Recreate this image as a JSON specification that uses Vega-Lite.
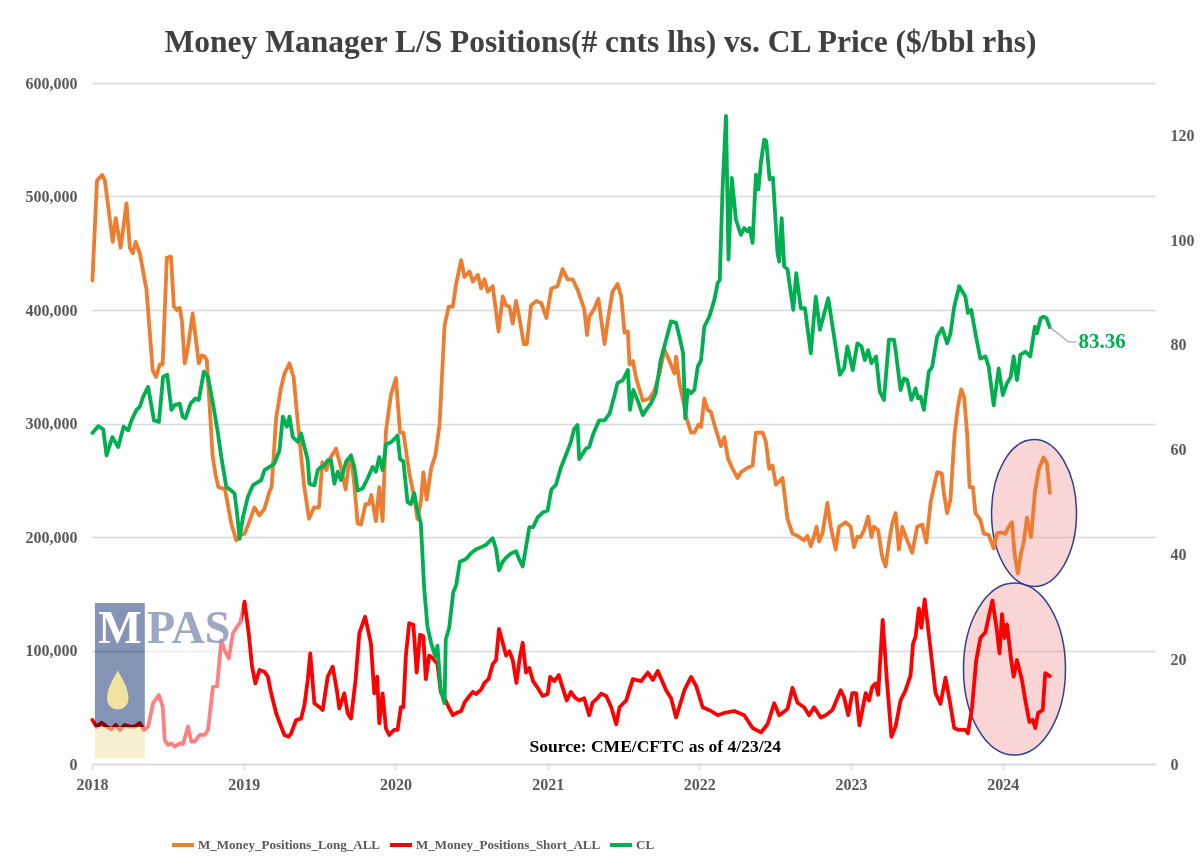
{
  "$schema": "https://vega.github.io/schema/vega-lite/v6.json",
  "width": 1063,
  "height": 681,
  "autosize": {"type": "none"},
  "padding": {"left": 92, "top": 83, "right": 45, "bottom": 104},
  "background": "white",
  "title": {"text": "Money Manager L/S Positions(# cnts lhs) vs. CL Price ($/bbl rhs)", "font": "Liberation Serif", "fontSize": 31.5, "fontWeight": "bold", "color": "#404040", "anchor": "middle", "frame": "group", "offset": 17, "dx": -23},
  "datasets": {
    "long": [
      {"d":"2018-01-02","v":426000},{"d":"2018-01-13","v":514000},{"d":"2018-01-26","v":519000},{"d":"2018-02-01","v":514000},{"d":"2018-02-20","v":460000},{"d":"2018-02-27","v":481000},{"d":"2018-03-11","v":455000},{"d":"2018-03-25","v":494000},{"d":"2018-04-02","v":455000},{"d":"2018-04-09","v":450000},{"d":"2018-04-16","v":460000},{"d":"2018-04-26","v":450000},{"d":"2018-05-12","v":418000},{"d":"2018-05-27","v":347000},{"d":"2018-06-04","v":341000},{"d":"2018-06-13","v":352000},{"d":"2018-06-20","v":352000},{"d":"2018-06-30","v":446000},{"d":"2018-07-10","v":447000},{"d":"2018-07-17","v":403000},{"d":"2018-07-24","v":400000},{"d":"2018-07-31","v":402000},{"d":"2018-08-05","v":391000},{"d":"2018-08-12","v":353000},{"d":"2018-08-19","v":365000},{"d":"2018-08-31","v":397000},{"d":"2018-09-15","v":353000},{"d":"2018-09-22","v":360000},{"d":"2018-09-29","v":359000},{"d":"2018-10-04","v":356000},{"d":"2018-10-11","v":315000},{"d":"2018-10-18","v":272000},{"d":"2018-10-25","v":255000},{"d":"2018-11-01","v":244000},{"d":"2018-11-17","v":242000},{"d":"2018-12-02","v":212000},{"d":"2018-12-14","v":197000},{"d":"2018-12-26","v":202000},
      {"d":"2019-01-03","v":203000},{"d":"2019-01-15","v":214000},{"d":"2019-01-27","v":226000},{"d":"2019-02-08","v":219000},{"d":"2019-02-20","v":225000},{"d":"2019-03-04","v":240000},{"d":"2019-03-09","v":244000},{"d":"2019-03-20","v":305000},{"d":"2019-04-01","v":332000},{"d":"2019-04-09","v":344000},{"d":"2019-04-21","v":353000},{"d":"2019-05-01","v":341000},{"d":"2019-05-10","v":305000},{"d":"2019-05-26","v":246000},{"d":"2019-06-07","v":216000},{"d":"2019-06-19","v":226000},{"d":"2019-07-01","v":226000},{"d":"2019-07-09","v":266000},{"d":"2019-07-19","v":259000},{"d":"2019-07-26","v":268000},{"d":"2019-08-11","v":278000},{"d":"2019-08-23","v":261000},{"d":"2019-09-03","v":242000},{"d":"2019-09-11","v":265000},{"d":"2019-09-16","v":272000},{"d":"2019-09-24","v":246000},{"d":"2019-10-02","v":212000},{"d":"2019-10-10","v":211000},{"d":"2019-10-21","v":229000},{"d":"2019-10-29","v":229000},{"d":"2019-11-04","v":237000},{"d":"2019-11-15","v":214000},{"d":"2019-11-23","v":244000},{"d":"2019-12-01","v":214000},{"d":"2019-12-09","v":293000},{"d":"2019-12-21","v":325000},
      {"d":"2020-01-02","v":340000},{"d":"2020-01-12","v":292000},{"d":"2020-01-20","v":292000},{"d":"2020-02-03","v":257000},{"d":"2020-02-15","v":235000},{"d":"2020-02-23","v":216000},{"d":"2020-03-02","v":231000},{"d":"2020-03-08","v":257000},{"d":"2020-03-16","v":233000},{"d":"2020-03-27","v":261000},{"d":"2020-04-06","v":272000},{"d":"2020-04-16","v":299000},{"d":"2020-04-28","v":386000},{"d":"2020-05-08","v":403000},{"d":"2020-05-18","v":403000},{"d":"2020-05-26","v":423000},{"d":"2020-06-07","v":444000},{"d":"2020-06-15","v":429000},{"d":"2020-06-27","v":434000},{"d":"2020-07-05","v":425000},{"d":"2020-07-17","v":431000},{"d":"2020-07-25","v":419000},{"d":"2020-08-02","v":427000},{"d":"2020-08-10","v":416000},{"d":"2020-08-22","v":421000},{"d":"2020-09-05","v":381000},{"d":"2020-09-15","v":412000},{"d":"2020-09-23","v":404000},{"d":"2020-10-01","v":403000},{"d":"2020-10-09","v":388000},{"d":"2020-10-17","v":408000},{"d":"2020-10-25","v":393000},{"d":"2020-11-05","v":370000},{"d":"2020-11-12","v":370000},{"d":"2020-11-22","v":404000},{"d":"2020-12-05","v":408000},{"d":"2020-12-17","v":406000},{"d":"2020-12-29","v":393000},
      {"d":"2021-01-10","v":419000},{"d":"2021-01-25","v":421000},{"d":"2021-02-06","v":436000},{"d":"2021-02-18","v":427000},{"d":"2021-03-02","v":427000},{"d":"2021-03-14","v":418000},{"d":"2021-03-30","v":401000},{"d":"2021-04-06","v":378000},{"d":"2021-04-11","v":394000},{"d":"2021-04-23","v":401000},{"d":"2021-05-03","v":410000},{"d":"2021-05-18","v":370000},{"d":"2021-05-25","v":389000},{"d":"2021-06-06","v":416000},{"d":"2021-06-18","v":423000},{"d":"2021-06-27","v":412000},{"d":"2021-07-05","v":380000},{"d":"2021-07-13","v":381000},{"d":"2021-07-17","v":352000},{"d":"2021-07-25","v":355000},{"d":"2021-08-02","v":340000},{"d":"2021-08-18","v":320000},{"d":"2021-09-03","v":322000},{"d":"2021-09-15","v":329000},{"d":"2021-09-27","v":344000},{"d":"2021-10-09","v":365000},{"d":"2021-10-21","v":355000},{"d":"2021-11-02","v":344000},{"d":"2021-11-06","v":359000},{"d":"2021-11-14","v":336000},{"d":"2021-11-22","v":322000},{"d":"2021-11-30","v":306000},{"d":"2021-12-12","v":292000},{"d":"2021-12-20","v":292000},{"d":"2021-12-30","v":299000},
      {"d":"2022-01-05","v":297000},{"d":"2022-01-13","v":322000},{"d":"2022-01-21","v":312000},{"d":"2022-01-29","v":310000},{"d":"2022-02-06","v":299000},{"d":"2022-02-22","v":280000},{"d":"2022-03-02","v":288000},{"d":"2022-03-11","v":269000},{"d":"2022-03-22","v":260000},{"d":"2022-04-03","v":252000},{"d":"2022-04-11","v":257000},{"d":"2022-04-27","v":261000},{"d":"2022-05-09","v":263000},{"d":"2022-05-17","v":292000},{"d":"2022-06-02","v":292000},{"d":"2022-06-10","v":284000},{"d":"2022-06-18","v":260000},{"d":"2022-06-26","v":263000},{"d":"2022-07-04","v":246000},{"d":"2022-07-20","v":252000},{"d":"2022-08-01","v":216000},{"d":"2022-08-13","v":203000},{"d":"2022-08-25","v":201000},{"d":"2022-09-10","v":197000},{"d":"2022-09-18","v":201000},{"d":"2022-09-26","v":192000},{"d":"2022-10-04","v":201000},{"d":"2022-10-10","v":209000},{"d":"2022-10-16","v":196000},{"d":"2022-10-24","v":203000},{"d":"2022-11-05","v":230000},{"d":"2022-11-13","v":209000},{"d":"2022-11-25","v":189000},{"d":"2022-12-03","v":209000},{"d":"2022-12-19","v":213000},{"d":"2022-12-31","v":209000},
      {"d":"2023-01-08","v":191000},{"d":"2023-01-16","v":200000},{"d":"2023-01-24","v":200000},{"d":"2023-02-01","v":206000},{"d":"2023-02-11","v":218000},{"d":"2023-02-19","v":200000},{"d":"2023-02-25","v":209000},{"d":"2023-03-07","v":206000},{"d":"2023-03-17","v":182000},{"d":"2023-03-25","v":174000},{"d":"2023-04-02","v":195000},{"d":"2023-04-10","v":212000},{"d":"2023-04-18","v":221000},{"d":"2023-04-26","v":189000},{"d":"2023-05-04","v":209000},{"d":"2023-05-16","v":197000},{"d":"2023-05-28","v":186000},{"d":"2023-06-09","v":209000},{"d":"2023-06-21","v":211000},{"d":"2023-07-01","v":195000},{"d":"2023-07-11","v":230000},{"d":"2023-07-19","v":244000},{"d":"2023-07-27","v":257000},{"d":"2023-08-07","v":256000},{"d":"2023-08-12","v":239000},{"d":"2023-08-20","v":221000},{"d":"2023-08-28","v":233000},{"d":"2023-09-07","v":291000},{"d":"2023-09-15","v":315000},{"d":"2023-09-23","v":330000},{"d":"2023-09-30","v":323000},{"d":"2023-10-07","v":291000},{"d":"2023-10-13","v":244000},{"d":"2023-10-21","v":244000},{"d":"2023-10-27","v":221000},{"d":"2023-11-08","v":215000},{"d":"2023-11-16","v":203000},{"d":"2023-11-28","v":202000},{"d":"2023-12-10","v":190000},{"d":"2023-12-18","v":203000},{"d":"2023-12-26","v":204000},
      {"d":"2024-01-07","v":203000},{"d":"2024-01-15","v":209000},{"d":"2024-01-23","v":213000},{"d":"2024-01-29","v":186000},{"d":"2024-02-06","v":168000},{"d":"2024-02-14","v":186000},{"d":"2024-02-20","v":195000},{"d":"2024-02-28","v":217000},{"d":"2024-03-09","v":200000},{"d":"2024-03-18","v":239000},{"d":"2024-03-27","v":259000},{"d":"2024-04-08","v":270000},{"d":"2024-04-16","v":265000},{"d":"2024-04-23","v":239000}
    ],
    "short": [
      {"d":"2018-01-02","v":38800},{"d":"2018-01-12","v":32900},{"d":"2018-01-24","v":36400},{"d":"2018-02-05","v":33000},{"d":"2018-02-17","v":30600},{"d":"2018-02-27","v":34400},{"d":"2018-03-09","v":30000},{"d":"2018-03-21","v":34400},{"d":"2018-04-02","v":32900},{"d":"2018-04-14","v":32900},{"d":"2018-04-26","v":36000},{"d":"2018-05-06","v":30000},{"d":"2018-05-16","v":33000},{"d":"2018-05-28","v":53500},{"d":"2018-06-11","v":60800},{"d":"2018-06-20","v":50500},{"d":"2018-06-25","v":21000},{"d":"2018-07-03","v":16700},{"d":"2018-07-11","v":18200},{"d":"2018-07-19","v":15300},{"d":"2018-07-31","v":18200},{"d":"2018-08-08","v":17600},{"d":"2018-08-20","v":33000},{"d":"2018-08-28","v":19700},{"d":"2018-09-05","v":19700},{"d":"2018-09-17","v":25600},{"d":"2018-09-29","v":25600},{"d":"2018-10-07","v":30000},{"d":"2018-10-19","v":68000},{"d":"2018-10-29","v":68700},{"d":"2018-11-08","v":109000},{"d":"2018-11-16","v":100000},{"d":"2018-11-26","v":93000},{"d":"2018-12-06","v":115000},{"d":"2018-12-16","v":121000},{"d":"2018-12-24","v":125000},
      {"d":"2019-01-03","v":143000},{"d":"2019-01-13","v":115000},{"d":"2019-01-21","v":85700},{"d":"2019-01-29","v":71000},{"d":"2019-02-08","v":82800},{"d":"2019-02-20","v":81300},{"d":"2019-02-28","v":77000},{"d":"2019-03-08","v":62300},{"d":"2019-03-20","v":44700},{"d":"2019-04-01","v":33000},{"d":"2019-04-09","v":25600},{"d":"2019-04-19","v":24000},{"d":"2019-04-25","v":27000},{"d":"2019-05-07","v":38800},{"d":"2019-05-19","v":40000},{"d":"2019-05-27","v":52000},{"d":"2019-06-04","v":74000},{"d":"2019-06-10","v":97500},{"d":"2019-06-20","v":53400},{"d":"2019-07-01","v":50500},{"d":"2019-07-10","v":47600},{"d":"2019-07-22","v":77000},{"d":"2019-08-03","v":85700},{"d":"2019-08-13","v":65000},{"d":"2019-08-19","v":49000},{"d":"2019-08-31","v":62300},{"d":"2019-09-08","v":44700},{"d":"2019-09-16","v":40000},{"d":"2019-09-27","v":74000},{"d":"2019-10-06","v":115000},{"d":"2019-10-20","v":129800},{"d":"2019-11-03","v":106000},{"d":"2019-11-11","v":62300},{"d":"2019-11-18","v":77000},{"d":"2019-11-23","v":35900},{"d":"2019-12-01","v":62300},{"d":"2019-12-09","v":31400},{"d":"2019-12-17","v":25600},{"d":"2019-12-29","v":30000},
      {"d":"2020-01-06","v":30000},{"d":"2020-01-14","v":50000},{"d":"2020-01-20","v":50000},{"d":"2020-01-26","v":95500},{"d":"2020-02-03","v":124000},{"d":"2020-02-13","v":122700},{"d":"2020-02-21","v":80500},{"d":"2020-02-29","v":114000},{"d":"2020-03-08","v":112600},{"d":"2020-03-14","v":74700},{"d":"2020-03-22","v":95500},{"d":"2020-03-30","v":93500},{"d":"2020-04-11","v":88000},{"d":"2020-04-19","v":63500},{"d":"2020-04-28","v":58000},{"d":"2020-05-08","v":50000},{"d":"2020-05-18","v":43000},{"d":"2020-05-27","v":45000},{"d":"2020-06-07","v":46700},{"d":"2020-06-15","v":54000},{"d":"2020-06-27","v":60000},{"d":"2020-07-05","v":63500},{"d":"2020-07-13","v":61700},{"d":"2020-07-25","v":65500},{"d":"2020-08-02","v":71500},{"d":"2020-08-12","v":74800},{"d":"2020-08-22","v":88000},{"d":"2020-08-30","v":91600},{"d":"2020-09-06","v":119000},{"d":"2020-09-15","v":106800},{"d":"2020-09-23","v":95500},{"d":"2020-10-01","v":99300},{"d":"2020-10-09","v":91600},{"d":"2020-10-18","v":71500},{"d":"2020-10-26","v":93600},{"d":"2020-11-02","v":106800},{"d":"2020-11-10","v":80500},{"d":"2020-11-18","v":84600},{"d":"2020-11-27","v":73000},{"d":"2020-12-08","v":67300},{"d":"2020-12-20","v":60000},
      {"d":"2021-01-01","v":61700},{"d":"2021-01-07","v":76700},{"d":"2021-01-17","v":73000},{"d":"2021-01-28","v":78400},{"d":"2021-02-06","v":67300},{"d":"2021-02-16","v":56000},{"d":"2021-02-26","v":63500},{"d":"2021-03-09","v":58000},{"d":"2021-03-18","v":56000},{"d":"2021-03-30","v":58000},{"d":"2021-04-11","v":43000},{"d":"2021-04-19","v":54000},{"d":"2021-05-01","v":58000},{"d":"2021-05-10","v":62000},{"d":"2021-05-22","v":60000},{"d":"2021-06-03","v":50000},{"d":"2021-06-15","v":35000},{"d":"2021-06-23","v":50000},{"d":"2021-07-09","v":56000},{"d":"2021-07-25","v":74800},{"d":"2021-08-14","v":73000},{"d":"2021-08-30","v":80500},{"d":"2021-09-11","v":74000},{"d":"2021-09-23","v":82000},{"d":"2021-10-13","v":65000},{"d":"2021-10-25","v":58000},{"d":"2021-11-06","v":41000},{"d":"2021-11-26","v":65000},{"d":"2021-12-12","v":76700},{"d":"2021-12-24","v":69000},
      {"d":"2022-01-09","v":50000},{"d":"2022-01-29","v":46700},{"d":"2022-02-14","v":43000},{"d":"2022-03-02","v":45000},{"d":"2022-03-26","v":46700},{"d":"2022-04-19","v":43000},{"d":"2022-05-09","v":31700},{"d":"2022-05-29","v":27800},{"d":"2022-06-14","v":35000},{"d":"2022-06-30","v":53500},{"d":"2022-07-12","v":43000},{"d":"2022-08-01","v":48500},{"d":"2022-08-13","v":67000},{"d":"2022-08-25","v":54000},{"d":"2022-09-10","v":50000},{"d":"2022-09-22","v":43000},{"d":"2022-10-04","v":50000},{"d":"2022-10-20","v":41000},{"d":"2022-11-01","v":43000},{"d":"2022-11-17","v":47600},{"d":"2022-12-07","v":65000},{"d":"2022-12-15","v":59000},{"d":"2022-12-25","v":43000},
      {"d":"2023-01-04","v":62500},{"d":"2023-01-13","v":62500},{"d":"2023-01-21","v":34000},{"d":"2023-02-05","v":62500},{"d":"2023-02-13","v":56000},{"d":"2023-02-21","v":68000},{"d":"2023-03-01","v":71000},{"d":"2023-03-07","v":61000},{"d":"2023-03-18","v":127000},{"d":"2023-03-28","v":74000},{"d":"2023-04-08","v":24000},{"d":"2023-04-18","v":33000},{"d":"2023-04-30","v":56000},{"d":"2023-05-12","v":65000},{"d":"2023-05-24","v":78000},{"d":"2023-05-30","v":106000},{"d":"2023-06-05","v":112000},{"d":"2023-06-13","v":137000},{"d":"2023-06-19","v":120000},{"d":"2023-06-27","v":145000},{"d":"2023-07-07","v":114000},{"d":"2023-07-23","v":62500},{"d":"2023-08-04","v":53000},{"d":"2023-08-16","v":76000},{"d":"2023-08-26","v":56000},{"d":"2023-09-06","v":31700},{"d":"2023-09-17","v":30000},{"d":"2023-10-03","v":30000},{"d":"2023-10-09","v":27000},{"d":"2023-10-19","v":50000},{"d":"2023-10-29","v":91600},{"d":"2023-11-08","v":111000},{"d":"2023-11-20","v":116000},{"d":"2023-11-28","v":129500},{"d":"2023-12-07","v":144000},{"d":"2023-12-18","v":117000},{"d":"2023-12-24","v":97500},{"d":"2023-12-30","v":132000},
      {"d":"2024-01-05","v":111000},{"d":"2024-01-11","v":123000},{"d":"2024-01-21","v":91600},{"d":"2024-01-27","v":77000},{"d":"2024-02-04","v":91600},{"d":"2024-02-16","v":74000},{"d":"2024-02-24","v":56000},{"d":"2024-03-05","v":37000},{"d":"2024-03-13","v":38800},{"d":"2024-03-19","v":31700},{"d":"2024-03-26","v":45000},{"d":"2024-04-06","v":47600},{"d":"2024-04-12","v":80000},{"d":"2024-04-23","v":77500}
    ],
    "cl": [
      {"d":"2018-01-02","v":63.2},{"d":"2018-01-16","v":64.5},{"d":"2018-01-28","v":63.9},{"d":"2018-02-05","v":58.9},{"d":"2018-02-19","v":62.4},{"d":"2018-03-05","v":60.5},{"d":"2018-03-18","v":64.4},{"d":"2018-03-29","v":63.7},{"d":"2018-04-06","v":65.6},{"d":"2018-04-18","v":67.6},{"d":"2018-04-26","v":68.2},{"d":"2018-05-04","v":70.1},{"d":"2018-05-16","v":72.0},{"d":"2018-05-30","v":65.6},{"d":"2018-06-11","v":65.3},{"d":"2018-06-21","v":73.9},{"d":"2018-07-01","v":74.3},{"d":"2018-07-11","v":67.6},{"d":"2018-07-19","v":68.5},{"d":"2018-07-31","v":68.8},{"d":"2018-08-07","v":66.3},{"d":"2018-08-14","v":66.0},{"d":"2018-08-26","v":68.8},{"d":"2018-09-07","v":69.8},{"d":"2018-09-15","v":69.5},{"d":"2018-09-27","v":74.9},{"d":"2018-10-07","v":73.9},{"d":"2018-10-19","v":68.8},{"d":"2018-10-31","v":63.1},{"d":"2018-11-08","v":58.6},{"d":"2018-11-20","v":52.9},{"d":"2018-12-02","v":52.2},{"d":"2018-12-10","v":51.6},{"d":"2018-12-16","v":47.8},{"d":"2018-12-22","v":43.0},{"d":"2018-12-30","v":47.1},
      {"d":"2019-01-11","v":51.0},{"d":"2019-01-23","v":53.2},{"d":"2019-02-04","v":53.8},{"d":"2019-02-12","v":54.2},{"d":"2019-02-20","v":56.1},{"d":"2019-03-04","v":56.7},{"d":"2019-03-16","v":57.4},{"d":"2019-03-28","v":59.9},{"d":"2019-04-05","v":66.3},{"d":"2019-04-15","v":64.4},{"d":"2019-04-21","v":66.3},{"d":"2019-04-29","v":62.4},{"d":"2019-05-11","v":61.5},{"d":"2019-05-19","v":63.1},{"d":"2019-05-23","v":61.8},{"d":"2019-06-04","v":58.0},{"d":"2019-06-08","v":53.5},{"d":"2019-06-20","v":53.2},{"d":"2019-06-28","v":56.1},{"d":"2019-07-06","v":56.7},{"d":"2019-07-14","v":57.0},{"d":"2019-07-22","v":58.0},{"d":"2019-07-30","v":58.0},{"d":"2019-08-07","v":53.5},{"d":"2019-08-15","v":55.8},{"d":"2019-08-23","v":54.2},{"d":"2019-09-04","v":57.7},{"d":"2019-09-16","v":58.9},{"d":"2019-09-24","v":56.7},{"d":"2019-10-02","v":52.2},{"d":"2019-10-14","v":52.6},{"d":"2019-10-26","v":54.5},{"d":"2019-11-07","v":56.7},{"d":"2019-11-15","v":55.8},{"d":"2019-11-23","v":58.6},{"d":"2019-12-01","v":56.1},{"d":"2019-12-09","v":61.0},{"d":"2019-12-21","v":61.4},
      {"d":"2020-01-02","v":62.3},{"d":"2020-01-06","v":62.7},{"d":"2020-01-12","v":58.2},{"d":"2020-01-20","v":57.8},{"d":"2020-01-30","v":50.0},{"d":"2020-02-07","v":49.6},{"d":"2020-02-15","v":51.7},{"d":"2020-02-23","v":48.4},{"d":"2020-03-02","v":45.9},{"d":"2020-03-10","v":33.6},{"d":"2020-03-18","v":26.2},{"d":"2020-03-27","v":23.0},{"d":"2020-04-06","v":20.5},{"d":"2020-04-11","v":22.6},{"d":"2020-04-19","v":14.0},{"d":"2020-04-28","v":11.6},{"d":"2020-05-01","v":23.8},{"d":"2020-05-09","v":25.9},{"d":"2020-05-19","v":32.8},{"d":"2020-05-26","v":34.1},{"d":"2020-06-04","v":38.6},{"d":"2020-06-15","v":39.0},{"d":"2020-06-22","v":39.4},{"d":"2020-06-30","v":40.2},{"d":"2020-07-13","v":41.0},{"d":"2020-07-25","v":41.4},{"d":"2020-08-05","v":41.8},{"d":"2020-08-22","v":43.1},{"d":"2020-08-30","v":41.0},{"d":"2020-09-06","v":37.0},{"d":"2020-09-15","v":38.6},{"d":"2020-09-23","v":39.4},{"d":"2020-10-05","v":40.2},{"d":"2020-10-17","v":40.6},{"d":"2020-10-25","v":39.0},{"d":"2020-11-02","v":37.7},{"d":"2020-11-10","v":41.4},{"d":"2020-11-18","v":45.2},{"d":"2020-11-27","v":45.2},{"d":"2020-12-08","v":47.1},{"d":"2020-12-20","v":48.0},
      {"d":"2021-01-01","v":48.4},{"d":"2021-01-10","v":52.4},{"d":"2021-01-21","v":53.3},{"d":"2021-02-02","v":56.6},{"d":"2021-02-14","v":59.0},{"d":"2021-02-26","v":61.5},{"d":"2021-03-06","v":64.0},{"d":"2021-03-14","v":64.7},{"d":"2021-03-18","v":58.2},{"d":"2021-04-03","v":60.2},{"d":"2021-04-11","v":60.5},{"d":"2021-04-21","v":63.1},{"d":"2021-05-05","v":65.6},{"d":"2021-05-18","v":65.6},{"d":"2021-05-30","v":66.9},{"d":"2021-06-10","v":70.1},{"d":"2021-06-18","v":72.7},{"d":"2021-07-01","v":73.3},{"d":"2021-07-13","v":75.2},{"d":"2021-07-18","v":67.6},{"d":"2021-07-26","v":71.4},{"d":"2021-08-05","v":69.5},{"d":"2021-08-18","v":66.6},{"d":"2021-08-26","v":67.6},{"d":"2021-09-06","v":68.8},{"d":"2021-09-18","v":70.8},{"d":"2021-09-30","v":77.1},{"d":"2021-10-13","v":81.0},{"d":"2021-10-25","v":84.5},{"d":"2021-11-06","v":84.2},{"d":"2021-11-14","v":81.6},{"d":"2021-11-23","v":78.4},{"d":"2021-11-28","v":66.0},{"d":"2021-12-04","v":71.4},{"d":"2021-12-12","v":70.8},{"d":"2021-12-20","v":71.4},{"d":"2021-12-28","v":75.8},
      {"d":"2022-01-05","v":77.1},{"d":"2022-01-13","v":83.5},{"d":"2022-01-25","v":85.4},{"d":"2022-02-06","v":88.6},{"d":"2022-02-14","v":91.8},{"d":"2022-02-19","v":92.4},{"d":"2022-02-26","v":110.3},{"d":"2022-03-06","v":123.7},{"d":"2022-03-12","v":96.3},{"d":"2022-03-20","v":111.9},{"d":"2022-03-30","v":103.9},{"d":"2022-04-11","v":101.0},{"d":"2022-04-19","v":102.3},{"d":"2022-04-27","v":101.7},{"d":"2022-05-02","v":102.3},{"d":"2022-05-09","v":99.5},{"d":"2022-05-17","v":112.5},{"d":"2022-05-23","v":109.7},{"d":"2022-05-29","v":114.8},{"d":"2022-06-06","v":119.2},{"d":"2022-06-11","v":118.9},{"d":"2022-06-19","v":111.6},{"d":"2022-06-27","v":111.9},{"d":"2022-07-08","v":97.5},{"d":"2022-07-12","v":95.9},{"d":"2022-07-18","v":104.2},{"d":"2022-07-24","v":95.0},{"d":"2022-08-01","v":94.4},{"d":"2022-08-09","v":89.9},{"d":"2022-08-15","v":86.7},{"d":"2022-08-22","v":93.7},{"d":"2022-09-02","v":87.0},{"d":"2022-09-12","v":87.0},{"d":"2022-09-26","v":78.4},{"d":"2022-10-08","v":89.2},{"d":"2022-10-18","v":82.9},{"d":"2022-11-07","v":88.9},{"d":"2022-11-21","v":81.6},{"d":"2022-12-05","v":74.3},{"d":"2022-12-15","v":75.5},{"d":"2022-12-23","v":79.7},
      {"d":"2023-01-05","v":75.2},{"d":"2023-01-16","v":80.3},{"d":"2023-01-26","v":79.7},{"d":"2023-02-03","v":77.1},{"d":"2023-02-11","v":79.0},{"d":"2023-02-19","v":76.5},{"d":"2023-03-02","v":77.8},{"d":"2023-03-11","v":71.1},{"d":"2023-03-21","v":69.5},{"d":"2023-04-02","v":81.0},{"d":"2023-04-14","v":81.0},{"d":"2023-04-18","v":79.0},{"d":"2023-04-30","v":71.4},{"d":"2023-05-08","v":73.6},{"d":"2023-05-16","v":73.3},{"d":"2023-05-26","v":69.5},{"d":"2023-06-05","v":71.7},{"d":"2023-06-11","v":69.8},{"d":"2023-06-17","v":70.1},{"d":"2023-06-25","v":67.6},{"d":"2023-07-07","v":74.9},{"d":"2023-07-15","v":75.8},{"d":"2023-07-27","v":81.6},{"d":"2023-08-08","v":83.2},{"d":"2023-08-20","v":80.3},{"d":"2023-08-28","v":82.2},{"d":"2023-09-06","v":87.3},{"d":"2023-09-18","v":91.2},{"d":"2023-10-03","v":89.2},{"d":"2023-10-09","v":86.1},{"d":"2023-10-17","v":86.7},{"d":"2023-10-27","v":82.2},{"d":"2023-11-08","v":77.4},{"d":"2023-11-20","v":77.8},{"d":"2023-11-28","v":75.8},{"d":"2023-12-10","v":68.5},{"d":"2023-12-22","v":75.5},
      {"d":"2024-01-01","v":70.4},{"d":"2024-01-11","v":72.7},{"d":"2024-01-20","v":73.9},{"d":"2024-01-27","v":77.8},{"d":"2024-02-04","v":73.3},{"d":"2024-02-12","v":78.1},{"d":"2024-02-24","v":78.7},{"d":"2024-03-07","v":77.8},{"d":"2024-03-18","v":83.5},{"d":"2024-03-23","v":82.2},{"d":"2024-04-01","v":85.1},{"d":"2024-04-08","v":85.4},{"d":"2024-04-15","v":85.1},{"d":"2024-04-23","v":83.36}
    ]
  },
  "layer": [
    {
      "layer": [
        {
          "data": {"values": [{}]},
          "mark": {"type": "point", "shape": "M0.578,0 C0.578,0.552 0.319,1 0,1 C-0.319,1 -0.578,0.552 -0.578,0 C-0.578,-0.552 -0.319,-1 0,-1 C0.319,-1 0.578,-0.552 0.578,0 Z", "size": 21609, "filled": true, "fill": "#F09696", "fillOpacity": 0.4, "stroke": "#2F3F8F", "strokeWidth": 1.5, "opacity": 1},
          "encoding": {
            "x": {"datum": {"year": 2024, "month": 3, "date": 16}, "type": "temporal"},
            "y": {"datum": 221100, "type": "quantitative"}
          }
        },
        {
          "data": {"values": [{}]},
          "mark": {"type": "point", "shape": "M0.593,0 C0.593,0.552 0.3275,1 0,1 C-0.3275,1 -0.593,0.552 -0.593,0 C-0.593,-0.552 -0.3275,-1 0,-1 C0.3275,-1 0.593,-0.552 0.593,0 Z", "size": 29584, "filled": true, "fill": "#F09696", "fillOpacity": 0.4, "stroke": "#2F3F8F", "strokeWidth": 1.5, "opacity": 1},
          "encoding": {
            "x": {"datum": {"year": 2024, "month": 1, "date": 29}, "type": "temporal"},
            "y": {"datum": 83700, "type": "quantitative"}
          }
        },
        {
          "data": {"name": "long"},
          "mark": {"type": "line", "strokeWidth": 3.8, "strokeJoin": "round", "strokeCap": "round"},
          "encoding": {
            "x": {"field": "d", "type": "temporal", "scale": {"domain": [{"year": 2018, "month": 1, "date": 1}, {"year": 2025, "month": 1, "date": 1}]}, "axis": {"title": null, "format": "%Y", "labelAlign": "center", "values": [{"year": 2018, "month": 1, "date": 1}, {"year": 2019, "month": 1, "date": 1}, {"year": 2020, "month": 1, "date": 1}, {"year": 2021, "month": 1, "date": 1}, {"year": 2022, "month": 1, "date": 1}, {"year": 2023, "month": 1, "date": 1}, {"year": 2024, "month": 1, "date": 1}]}},
            "y": {"field": "v", "type": "quantitative", "scale": {"domain": [0, 600000], "nice": false}, "axis": {"title": null, "orient": "left", "format": ",d", "values": [0, 100000, 200000, 300000, 400000, 500000, 600000]}},
            "color": {"datum": "M_Money_Positions_Long_ALL", "type": "nominal", "scale": {"domain": ["M_Money_Positions_Long_ALL", "M_Money_Positions_Short_ALL", "CL"], "range": ["#ED7D31", "#FF0000", "#00B050"]}, "legend": {"title": null, "orient": "none", "legendX": 78, "legendY": 749, "direction": "horizontal", "symbolType": "stroke", "symbolStrokeWidth": 4, "symbolSize": 484, "labelFont": "Liberation Serif", "labelFontSize": 13, "labelFontWeight": "bold", "labelColor": "#595959", "columnPadding": 1, "labelOffset": 2, "labelLimit": 400}}
          }
        },
        {
          "data": {"name": "short"},
          "mark": {"type": "line", "strokeWidth": 3.8, "strokeJoin": "round", "strokeCap": "round"},
          "encoding": {
            "x": {"field": "d", "type": "temporal"},
            "y": {"field": "v", "type": "quantitative"},
            "color": {"datum": "M_Money_Positions_Short_ALL", "type": "nominal"}
          }
        },
        {
          "data": {"values": [{}]},
          "mark": {"type": "rect", "fill": "white", "opacity": 0.5},
          "encoding": {
            "x": {"datum": {"year": 2018, "month": 5, "date": 8}, "type": "temporal"},
            "x2": {"datum": {"year": 2018, "month": 12, "date": 28}},
            "y": {"datum": 0, "type": "quantitative"},
            "y2": {"datum": 147000}
          }
        },
        {
          "data": {"values": [{}]},
          "mark": {"type": "rect", "fill": "#8593B5", "blend": "multiply"},
          "encoding": {
            "x": {"datum": {"year": 2018, "month": 1, "date": 8}, "type": "temporal"},
            "x2": {"datum": {"year": 2018, "month": 5, "date": 8}},
            "y": {"datum": 32600, "type": "quantitative"},
            "y2": {"datum": 141800}
          }
        },
        {
          "data": {"values": [{}]},
          "mark": {"type": "rect", "fill": "#F2E5AE", "opacity": 0.6},
          "encoding": {
            "x": {"datum": {"year": 2018, "month": 1, "date": 8}, "type": "temporal"},
            "x2": {"datum": {"year": 2018, "month": 5, "date": 8}},
            "y": {"datum": 5300, "type": "quantitative"},
            "y2": {"datum": 32600}
          }
        },
        {
          "data": {"values": [{}]},
          "mark": {"type": "point", "shape": "M0,-1 C0.2,-0.6 0.55,-0.15 0.55,0.45 C0.55,0.76 0.3,1 0,1 C-0.3,1 -0.55,0.76 -0.55,0.45 C-0.55,-0.15 -0.2,-0.6 0,-1 Z", "size": 1521, "filled": true, "fill": "#F0E3A0", "opacity": 1, "strokeWidth": 0},
          "encoding": {
            "x": {"datum": {"year": 2018, "month": 3, "date": 4}, "type": "temporal"},
            "y": {"datum": 65200, "type": "quantitative"}
          }
        },
        {
          "data": {"values": [{}]},
          "mark": {"type": "text", "text": "M", "font": "Liberation Serif", "fontSize": 46, "fontWeight": "bold", "fill": "white", "align": "center", "baseline": "alphabetic"},
          "encoding": {
            "x": {"datum": {"year": 2018, "month": 3, "date": 9}, "type": "temporal"},
            "y": {"datum": 106600, "type": "quantitative"}
          }
        },
        {
          "data": {"values": [{}]},
          "mark": {"type": "text", "text": "PAS", "font": "Liberation Serif", "fontSize": 46, "fontWeight": "bold", "fill": "#8E99B9", "opacity": 0.85, "align": "left", "baseline": "alphabetic"},
          "encoding": {
            "x": {"datum": {"year": 2018, "month": 5, "date": 13}, "type": "temporal"},
            "y": {"datum": 106600, "type": "quantitative"}
          }
        },
        {
          "data": {"values": [{}]},
          "mark": {"type": "text", "text": "Source: CME/CFTC as of 4/23/24", "font": "Liberation Serif", "fontSize": 17.5, "fontWeight": "bold", "fill": "black", "align": "center", "baseline": "alphabetic"},
          "encoding": {
            "x": {"datum": {"year": 2021, "month": 9, "date": 17}, "type": "temporal"},
            "y": {"datum": 10600, "type": "quantitative"}
          }
        }
      ]
    },
    {
      "layer": [
        {
          "data": {"name": "cl"},
          "mark": {"type": "line", "strokeWidth": 3.8, "strokeJoin": "round", "strokeCap": "round"},
          "encoding": {
            "x": {"field": "d", "type": "temporal"},
            "y": {"field": "v", "type": "quantitative", "scale": {"domain": [0, 130], "nice": false}, "axis": {"title": null, "orient": "right", "values": [0, 20, 40, 60, 80, 100, 120]}},
            "color": {"datum": "CL", "type": "nominal"}
          }
        },
        {
          "data": {"values": [{}]},
          "mark": {"type": "rule", "color": "#A6A6A6", "strokeWidth": 1.2},
          "encoding": {
            "x": {"datum": {"year": 2024, "month": 4, "date": 23}, "type": "temporal"},
            "x2": {"datum": {"year": 2024, "month": 6, "date": 7}},
            "y": {"datum": 83.36, "type": "quantitative"},
            "y2": {"datum": 80.57}
          }
        },
        {
          "data": {"values": [{}]},
          "mark": {"type": "rule", "color": "#A6A6A6", "strokeWidth": 1.2},
          "encoding": {
            "x": {"datum": {"year": 2024, "month": 6, "date": 7}, "type": "temporal"},
            "x2": {"datum": {"year": 2024, "month": 6, "date": 26}},
            "y": {"datum": 80.57, "type": "quantitative"},
            "y2": {"datum": 80.57}
          }
        },
        {
          "data": {"values": [{}]},
          "mark": {"type": "text", "text": "83.36", "font": "Liberation Serif", "fontSize": 21, "fontWeight": "bold", "fill": "#00B050", "align": "left", "baseline": "middle"},
          "encoding": {
            "x": {"datum": {"year": 2024, "month": 7, "date": 1}, "type": "temporal"},
            "y": {"datum": 80.57, "type": "quantitative"}
          }
        }
      ]
    }
  ],
  "resolve": {"scale": {"y": "independent"}},
  "config": {
    "view": {"stroke": null},
    "axis": {"labelFont": "Liberation Serif", "labelFontSize": 16, "labelFontWeight": "bold", "labelColor": "#595959", "domain": false, "ticks": false, "gridColor": "#D9D9D9", "gridWidth": 1.3},
    "axisLeft": {"grid": true, "labelPadding": 15},
    "axisRight": {"grid": false, "labelPadding": 15},
    "axisBottom": {"grid": false, "domain": true, "domainColor": "#D9D9D9", "domainWidth": 1.5, "ticks": true, "tickColor": "#D9D9D9", "tickSize": 6, "tickWidth": 1.3, "labelPadding": 6, "labelAlign": "center", "labelFlush": false}
  }
}
